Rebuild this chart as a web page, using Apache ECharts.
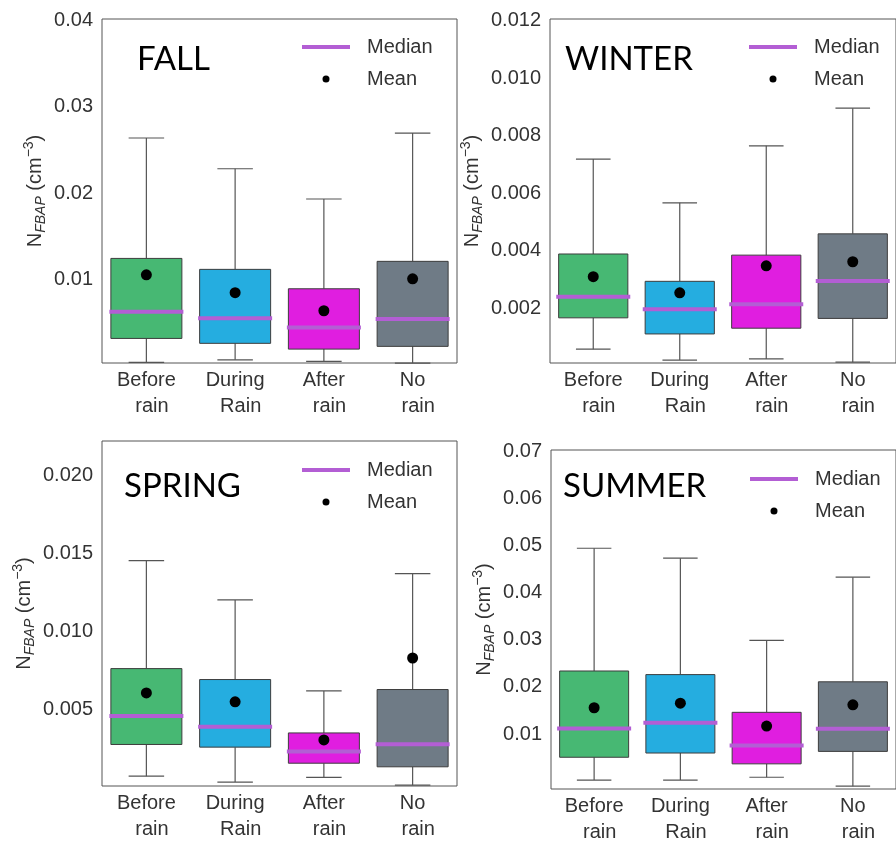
<!DOCTYPE html>
<html>
<head>
<meta charset="utf-8">
<script src="https://cdn.jsdelivr.net/npm/echarts@6/dist/echarts.min.js"></script>
<style>
  html, body { margin: 0; padding: 0; background: #fff; }
  #chart { width: 896px; height: 845px; }
</style>
</head>
<body>
<div id="chart"></div>
<script>
// categories (second line shifted a bit like the original)
const categories = ['Before rain', 'During Rain', 'After rain', 'No rain'];
const boxColors = ['#47b873', '#25ade0', '#e01ee0', '#6f7b86'];

// [whisker low, Q1, median, Q3, whisker high] per category
const fallBoxes = [
  [0.00037, 0.00315, 0.00624, 0.01243, 0.0264],
  [0.00067, 0.00258, 0.00548, 0.01116, 0.02283],
  [0.00049, 0.00191, 0.00443, 0.00891, 0.01932],
  [0.00029, 0.00223, 0.00539, 0.01209, 0.02697]
];
const fallMeans = [0.01053, 0.00845, 0.00636, 0.01007];

const winterBoxes = [
  [0.00058, 0.00167, 0.0024, 0.00389, 0.00719],
  [0.0002, 0.00111, 0.00197, 0.00294, 0.00567],
  [0.00024, 0.00131, 0.00214, 0.00385, 0.00765],
  [0.00013, 0.00165, 0.00295, 0.00459, 0.00896]
];
const winterMeans = [0.0031, 0.00254, 0.00348, 0.00362];

const springBoxes = [
  [0.00073, 0.00276, 0.00459, 0.00762, 0.01454],
  [0.00035, 0.00259, 0.00389, 0.00692, 0.01202],
  [0.00065, 0.00156, 0.00231, 0.0035, 0.00619],
  [0.00015, 0.00133, 0.00278, 0.00628, 0.01371]
];
const springMeans = [0.00606, 0.00549, 0.00305, 0.0083];

const summerBoxes = [
  [0.0002, 0.00505, 0.01118, 0.0234, 0.0495],
  [0.0002, 0.00595, 0.01237, 0.02263, 0.0474],
  [0.0008, 0.00365, 0.00756, 0.01461, 0.0299],
  [-0.0011, 0.0063, 0.01112, 0.0211, 0.04335]
];
const summerMeans = [0.01558, 0.01656, 0.01168, 0.0162];

// tick labels
const fallTicks = [0.01, 0.02, 0.03, 0.04];
const winterTicks = [0.002, 0.004, 0.006, 0.008, 0.010, 0.012];
const springTicks = [0.005, 0.010, 0.015, 0.020];
const summerTicks = [0.01, 0.02, 0.03, 0.04, 0.05, 0.06, 0.07];

const panels = [
  { title: 'FALL', boxes: fallBoxes, means: fallMeans, ticks: fallTicks, dec: 2,
    min: 0.0003, max: 0.0402, grid: { left: 102, top: 19, width: 355, height: 344 },
    titlePos: [137, 58], legendPos: [297, 31] },
  { title: 'WINTER', boxes: winterBoxes, means: winterMeans, ticks: winterTicks, dec: 3,
    min: 0.0001, max: 0.01206, grid: { left: 550, top: 19, width: 355, height: 344 },
    titlePos: [565, 58], legendPos: [744, 31] },
  { title: 'SPRING', boxes: springBoxes, means: springMeans, ticks: springTicks, dec: 3,
    min: 0.0001, max: 0.0222, grid: { left: 102, top: 441, width: 355, height: 345 },
    titlePos: [124, 485], legendPos: [297, 454] },
  { title: 'SUMMER', boxes: summerBoxes, means: summerMeans, ticks: summerTicks, dec: 2,
    min: -0.0017, max: 0.0704, grid: { left: 551, top: 450, width: 355, height: 344 },
    titlePos: [563, 485], legendPos: [745, 463] }
];

const MEDIAN_COLOR = '#b35ed4';
const labelFont = "'Liberation Sans', Arial, sans-serif";

function renderBox(params, api) {
  const i = api.value(0);
  const x = api.coord([i, 0])[0];
  const band = api.size([1, 0])[0];
  const bw = band * 0.8;
  const capW = bw / 2;
  const yLow = api.coord([i, api.value(1)])[1];
  const yQ1 = api.coord([i, api.value(2)])[1];
  const yQ3 = api.coord([i, api.value(4)])[1];
  const yHigh = api.coord([i, api.value(5)])[1];
  const lineStyle = { stroke: '#555', lineWidth: 1.2 };
  return {
    type: 'group',
    children: [
      { type: 'line', shape: { x1: x, y1: yLow, x2: x, y2: yQ1 }, style: lineStyle },
      { type: 'line', shape: { x1: x, y1: yQ3, x2: x, y2: yHigh }, style: lineStyle },
      { type: 'line', shape: { x1: x - capW / 2, y1: yLow, x2: x + capW / 2, y2: yLow }, style: lineStyle },
      { type: 'line', shape: { x1: x - capW / 2, y1: yHigh, x2: x + capW / 2, y2: yHigh }, style: lineStyle },
      { type: 'rect', shape: { x: x - bw / 2, y: yQ3, width: bw, height: yQ1 - yQ3 },
        style: { fill: boxColors[i], stroke: '#3d3d3d', lineWidth: 1 } }
    ]
  };
}

const option = {
  animation: false,
  backgroundColor: '#fff',
  grid: [], xAxis: [], yAxis: [], series: [], legend: [], graphic: []
};

panels.forEach(function (p, k) {
  option.grid.push(Object.assign({ show: true, borderColor: '#555', borderWidth: 1, backgroundColor: '#fff' }, p.grid));
  option.xAxis.push({
    type: 'category', gridIndex: k, data: categories,
    axisLine: { show: false }, axisTick: { show: false },
    axisLabel: {
      fontFamily: labelFont, fontSize: 20, color: '#333', lineHeight: 26, margin: 4,
      formatter: function (v) {
        const parts = v.split(' ');
        return parts[0] + '\n  ' + parts[1];
      }
    }
  });
  option.yAxis.push({
    type: 'value', gridIndex: k, min: p.min, max: p.max,
    axisLine: { show: false }, axisTick: { show: false }, splitLine: { show: false },
    axisLabel: {
      customValues: p.ticks, fontFamily: labelFont, fontSize: 20, color: '#333', margin: 9,
      formatter: function (v) { return v.toFixed(p.dec); }
    },
    name: '{a|N}{b|FBAP}{a| (cm}{c|\u22123}{a|)}',
    nameLocation: 'middle', nameGap: 52,
    nameTextStyle: {
      rich: {
        a: { fontFamily: labelFont, fontSize: 20, color: '#333', lineHeight: 30, verticalAlign: 'middle' },
        b: { fontFamily: labelFont, fontSize: 14, fontStyle: 'italic', color: '#333', lineHeight: 30, verticalAlign: 'bottom', padding: [0, 0, 2, 0] },
        c: { fontFamily: labelFont, fontSize: 14, color: '#333', lineHeight: 30, verticalAlign: 'top', padding: [2, 0, 0, 0] }
      }
    }
  });

  option.series.push({
    type: 'custom', xAxisIndex: k, yAxisIndex: k, renderItem: renderBox,
    encode: { x: 0, y: [1, 2, 3, 4, 5] },
    data: p.boxes.map(function (b, i) { return [i].concat(b); }),
    z: 2
  });
  option.series.push({
    name: 'Median', type: 'scatter', xAxisIndex: k, yAxisIndex: k,
    symbol: 'rect', symbolSize: [74, 4], itemStyle: { color: MEDIAN_COLOR, opacity: 1 },
    data: p.boxes.map(function (b, i) { return [i, b[2]]; }),
    z: 3
  });
  option.series.push({
    name: 'Mean', type: 'scatter', xAxisIndex: k, yAxisIndex: k,
    symbol: 'circle', symbolSize: 11, itemStyle: { color: '#000', opacity: 1 },
    data: p.means.map(function (m, i) { return [i, m]; }),
    z: 4
  });

  option.legend.push({
    orient: 'vertical', left: p.legendPos[0], top: p.legendPos[1],
    itemWidth: 48, itemHeight: 7, itemGap: 10, symbolKeepAspect: true,
    textStyle: { fontFamily: labelFont, fontSize: 20, color: '#333', lineHeight: 22, padding: [0, 0, 0, 12] },
    data: [
      { name: 'Median', icon: 'path://M0 0H48V4H0Z', itemStyle: { color: MEDIAN_COLOR } },
      { name: 'Mean', icon: 'circle', itemStyle: { color: '#000' } }
    ]
  });

  option.graphic.push({
    type: 'text', left: p.titlePos[0], top: p.titlePos[1] - 15, z: 10,
    style: { text: p.title, font: "33px Lato, 'Open Sans', sans-serif", fill: '#000' }
  });
});

const chart = echarts.init(document.getElementById('chart'));
chart.setOption(option);
</script>
</body>
</html>
